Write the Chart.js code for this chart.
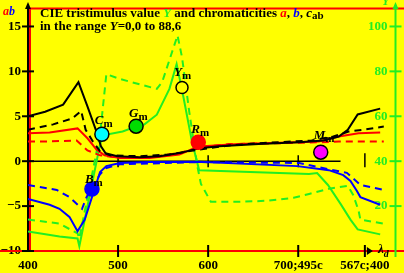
<!DOCTYPE html>
<html>
<head>
<meta charset="utf-8">
<script src="https://cdn.jsdelivr.net/npm/chart.js@4.4.0/dist/chart.umd.min.js"></script>
<style>
  html, body { margin: 0; padding: 0; background: #ffff00; overflow: hidden; }
</style>
</head>
<body>
<canvas id="myChart" width="404" height="273"></canvas>
<script>
// wavelength axis: 400..700 nm, then complementary wavelengths (700;495c .. 567c;400)
const xTicks = [400, 500, 600, 700, 774];
const xLabels = ['400', '500', '600', '700;495c', '567c;400'];
const yTicks = [-10, -5, 0, 5, 10, 15];
const y2Ticks = [20, 40, 60, 80, 100];

// c_ab (black)
const lamCabSolid = [400, 419, 439, 456, 466, 476, 481, 486, 499, 524, 546, 568, 590, 612, 656, 701, 728, 745, 755, 766, 791];
const cabSolid    = [5.0, 5.5, 6.3, 8.8, 6.1, 3.3, 1.65, 0.9, 0.55, 0.45, 0.55, 0.9, 1.45, 1.65, 1.9, 2.1, 2.3, 2.75, 3.5, 5.2, 5.85];
const lamCabDashed = [400, 428, 449, 459, 464, 472, 480, 491, 524, 557, 590, 623, 656, 715, 739, 756, 772, 795];
const cabDashed    = [3.5, 4.1, 4.75, 5.6, 3.5, 2.2, 1.1, 0.65, 0.55, 0.75, 1.3, 1.75, 2.0, 2.3, 2.75, 3.3, 3.5, 3.85];

// a (red)
const lamASolid = [400, 424, 455, 466, 476, 485, 502, 535, 568, 590, 634, 723, 745, 767, 791];
const aSolid    = [3.1, 3.2, 3.65, 2.55, 1.3, 0.65, 0.35, 0.35, 0.75, 1.65, 1.9, 2.2, 2.75, 3.1, 3.2];
const lamADashed = [400, 424, 454, 466, 480, 498, 535, 568, 590, 623, 678, 723, 745, 795];
const aDashed    = [2.2, 2.2, 2.3, 1.2, 0.65, 0.45, 0.45, 0.9, 1.55, 1.9, 2.0, 2.1, 2.2, 2.2];

// b (blue)
const lamBSolid = [400, 424, 435, 446, 455, 463, 480, 487, 502, 535, 590, 699, 734, 750, 758, 765, 769, 791];
const bSolid    = [-4.2, -4.85, -5.3, -6.2, -7.8, -6.5, -1.2, -0.55, -0.2, -0.1, -0.05, -0.55, -1.0, -1.55, -2.2, -3.3, -4.0, -4.85];
const lamBDashed = [400, 432, 446, 460, 465, 480, 487, 502, 590, 701, 734, 754, 762, 769, 795];
const bDashed    = [-2.65, -3.2, -4.0, -5.3, -4.0, -1.45, -0.75, -0.35, -0.1, -0.2, -0.9, -1.3, -2.0, -2.65, -3.2];

// Y (green, right axis)
const lamYSolid = [400, 435, 455, 457, 480, 483, 505, 520, 529, 543, 557, 565, 571, 582, 590, 712, 721, 733, 747, 758, 766, 791];
const ySolid    = [8.7, 6.5, 5.6, 2.1, 47.5, 51.5, 53.2, 55.4, 56.3, 60.7, 72.2, 83.2, 71.8, 48.8, 36.0, 34.3, 34.7, 29.4, 21.0, 14.0, 9.6, 7.4];
const lamYDashed = [400, 435, 455, 457, 480, 487, 502, 543, 549, 566, 571, 579, 588, 592, 603, 634, 667, 695, 712, 734, 755, 761, 767, 769, 794];
const yDashed    = [14.0, 12.2, 7.8, 5.6, 51.9, 78.8, 76.6, 72.2, 75.3, 96.0, 86.3, 62.1, 37.8, 29.9, 21.9, 21.9, 22.4, 23.7, 25.4, 27.7, 29.0, 25.0, 18.0, 14.0, 12.2];

// marked colours C, G, Y, R, M, B
const markNames = ['C', 'G', 'Y', 'R', 'M', 'B'];
const markLam   = [482, 520, 571, 589, 725, 471];
const markVal   = [3.0, 3.9, 8.2, 2.1, 1.0, -3.1];
const markFill  = ['#00ffff', '#00dd00', '#ffff00', '#ff0000', '#ff00ff', '#0000ff'];
const markEdge  = ['#000', '#000', '#000', '#ff0000', '#000', '#0000ff'];

const zeroLineEnd = 747;

const GREEN = '#22ee22';
const SERIF = '"Liberation Serif", "Times New Roman", serif';

function pts(lam, val) {
  return lam.map((l, i) => ({ x: l, y: val[i] }));
}

function curve(lam, val, color, dashed, axis) {
  return {
    data: pts(lam, val),
    borderColor: color,
    borderWidth: 2,
    borderDash: dashed ? [7, 5] : [],
    pointRadius: 0,
    tension: 0,
    fill: false,
    yAxisID: axis || 'y'
  };
}

function line(c, x1, y1, x2, y2) {
  c.beginPath(); c.moveTo(x1, y1); c.lineTo(x2, y2); c.stroke();
}

// draw a row of text pieces
function pieces(c, x, y, list) {
  for (const p of list) {
    c.font = (p.i ? 'italic ' : '') + 'bold ' + (p.s || 13) + 'px ' + SERIF;
    c.fillStyle = p.c || '#000';
    c.fillText(p.t, x, y + (p.d || 0));
    x += c.measureText(p.t).width;
  }
}

// no extra room for half labels at the axis ends
function noPad(s) {
  s.paddingTop = 0; s.paddingBottom = 0; s.paddingLeft = 0; s.paddingRight = 0;
}

const datasets = [];
markNames.forEach((n, i) => {
  datasets.push({
    data: [{ x: markLam[i], y: markVal[i] }],
    showLine: false,
    pointRadius: n === 'Y' ? 6 : 7,
    pointBackgroundColor: markFill[i],
    pointBorderColor: markEdge[i],
    pointBorderWidth: 1.5,
    yAxisID: 'y'
  });
});
datasets.push(curve(lamCabSolid, cabSolid, '#000', false));
datasets.push(curve(lamCabDashed, cabDashed, '#000', true));
datasets.push(curve(lamASolid, aSolid, '#ff0000', false));
datasets.push(curve(lamADashed, aDashed, '#ff0000', true));
datasets.push(curve(lamBSolid, bSolid, '#0000ff', false));
datasets.push(curve(lamBDashed, bDashed, '#0000ff', true));
datasets.push(curve(lamYSolid, ySolid, GREEN, false, 'y2'));
datasets.push(curve(lamYDashed, yDashed, GREEN, true, 'y2'));

const decor = {
  id: 'decor',
  beforeDraw(chart) {
    const c = chart.ctx;
    c.save();
    c.fillStyle = '#ffff00';
    c.fillRect(0, 0, chart.width, chart.height);
    c.restore();
  },
  beforeDatasetsDraw(chart) {
    const c = chart.ctx, a = chart.chartArea;
    const x = chart.scales.x, y = chart.scales.y, y2 = chart.scales.y2;
    c.save();
    // red frame
    c.strokeStyle = '#ff0000';
    c.lineWidth = 2;
    line(c, 0, a.bottom, chart.width, a.bottom);
    line(c, a.left + 2, a.top, chart.width, a.top);
    line(c, a.left + 2, a.top, a.left + 2, a.bottom);

    // zero line with marks
    c.strokeStyle = '#000';
    c.lineWidth = 1.5;
    const y0 = y.getPixelForValue(0);
    line(c, x.getPixelForValue(400), y0, x.getPixelForValue(zeroLineEnd), y0);
    for (const t of [500, 600, 700]) {
      const px = x.getPixelForValue(t);
      line(c, px, y0 - 6, px, y0 + 6);
    }
    const pc = x.getPixelForValue(774);
    line(c, pc, y0 - 8, pc, y0 + 6);

    // bottom marks + arrow
    c.lineWidth = 2;
    for (const t of xTicks.slice(1)) {
      const px = x.getPixelForValue(t);
      line(c, px, a.bottom - 6, px, a.bottom + 6);
    }
    c.fillStyle = '#000';
    c.beginPath();
    c.moveTo(pc + 2, a.bottom - 4); c.lineTo(pc + 8, a.bottom); c.lineTo(pc + 2, a.bottom + 4);
    c.closePath(); c.fill();

    // left axis
    line(c, a.left, a.bottom, a.left, 6);
    c.beginPath();
    c.moveTo(a.left - 3, 9); c.lineTo(a.left, 2); c.lineTo(a.left + 3, 9);
    c.closePath(); c.fill();
    for (const t of yTicks) {
      const py = y.getPixelForValue(t);
      line(c, a.left - 6, py, a.left + 6, py);
    }

    // right axis (Y)
    c.strokeStyle = GREEN;
    c.fillStyle = GREEN;
    line(c, a.right, a.bottom + 6, a.right, 6);
    c.beginPath();
    c.moveTo(a.right - 3, 9); c.lineTo(a.right, 2); c.lineTo(a.right + 3, 9);
    c.closePath(); c.fill();
    for (const t of y2Ticks) {
      const py = y2.getPixelForValue(t);
      line(c, a.right - 6, py, a.right + 6, py);
    }
    c.restore();
  },
  afterDatasetsDraw(chart) {
    const c = chart.ctx;
    const x = chart.scales.x, y = chart.scales.y;
    c.save();
    c.textBaseline = 'alphabetic';
    c.textAlign = 'left';
    pieces(c, 40, 17, [
      { t: 'CIE tristimulus value ' },
      { t: 'Y', i: 1, c: GREEN },
      { t: ' and chromaticities ' },
      { t: 'a', i: 1, c: '#ff0000' },
      { t: ', ' },
      { t: 'b', i: 1, c: '#0000ff' },
      { t: ', ' },
      { t: 'c', i: 1 },
      { t: 'ab', s: 11, d: 2 }
    ]);
    pieces(c, 40, 30, [
      { t: 'in the range ' },
      { t: 'Y', i: 1 },
      { t: '=0,0 to 88,6' }
    ]);
    // axis names
    pieces(c, 3, 15, [{ t: 'a', i: 1, c: '#ff0000', s: 12 }, { t: 'b', i: 1, c: '#0000ff', s: 12 }]);
    pieces(c, 382, 5, [{ t: 'Y', i: 1, c: GREEN, s: 12 }]);
    pieces(c, 378, 253, [{ t: 'λ', i: 1 }, { t: 'd', i: 1, s: 10, d: 4 }]);

    // marker labels
    const off = { C: [-7, -10], G: [-7, -9], Y: [-8, -12], R: [-7, -9], M: [-7, -13], B: [-7, -6] };
    markNames.forEach((n, i) => {
      const px = x.getPixelForValue(markLam[i]);
      const py = y.getPixelForValue(markVal[i]);
      const o = off[n];
      pieces(c, px + o[0], py + o[1], [{ t: n, i: 1 }, { t: 'm', s: 11, d: 3 }]);
    });
    c.restore();
  }
};

const ctx = document.getElementById('myChart').getContext('2d');
const myChart = new Chart(ctx, {
  type: 'line',
  data: { datasets: datasets },
  options: {
    responsive: false,
    animation: false,
    events: [],
    layout: { padding: { top: 6, left: 0, right: 0, bottom: 0 } },
    plugins: { legend: { display: false }, tooltip: { enabled: false } },
    scales: {
      x: {
        type: 'linear',
        min: 400,
        max: 808,
        grid: { display: false, drawTicks: false },
        border: { display: false },
        afterBuildTicks: s => { s.ticks = xTicks.map(v => ({ value: v })); },
        afterFit: s => { s.height = 22; noPad(s); },
        ticks: {
          autoSkip: false,
          maxRotation: 0,
          padding: 7,
          color: '#000',
          font: { family: SERIF, weight: 'bold', size: 13 },
          callback: v => xLabels[xTicks.indexOf(v)]
        }
      },
      y: {
        position: 'left',
        min: -10,
        max: 17,
        grid: { display: false, drawTicks: false },
        border: { display: false },
        afterBuildTicks: s => { s.ticks = yTicks.map(v => ({ value: v })); },
        afterFit: s => { s.width = 28; noPad(s); },
        ticks: {
          padding: 7,
          color: '#000',
          font: { family: SERIF, weight: 'bold', size: 13 },
          callback: v => (v < 0 ? '\u2212' + (-v) : String(v))
        }
      },
      y2: {
        position: 'right',
        min: 0,
        max: 108,
        grid: { display: false, drawTicks: false },
        border: { display: false },
        afterBuildTicks: s => { s.ticks = y2Ticks.map(v => ({ value: v })); },
        afterFit: s => { s.width = 7; noPad(s); },
        ticks: {
          mirror: true,
          padding: -8,
          color: GREEN,
          font: { family: SERIF, weight: 'bold', size: 13 }
        }
      }
    }
  },
  plugins: [decor]
});
</script>
</body>
</html>
